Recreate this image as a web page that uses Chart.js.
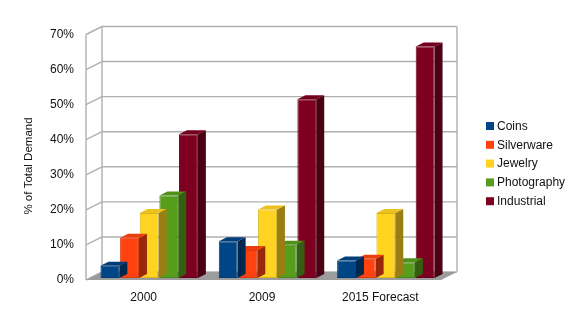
<!DOCTYPE html>
<html><head><meta charset="utf-8">
<script src="https://cdn.jsdelivr.net/npm/chart.js@4.4.0/dist/chart.umd.min.js"></script>
<style>html,body{margin:0;padding:0;background:#fff;overflow:hidden;}</style>
</head><body>
<canvas id="c" width="580" height="328"></canvas>
<script>
// ---- data ----
const categories = ['2000', '2009', '2015 Forecast'];
const seriesNames = ['Coins', 'Silverware', 'Jewelry', 'Photography', 'Industrial'];
const coins = [3.5, 10.5, 5];
const silverware = [11.5, 8, 5.5];
const jewelry = [18.5, 19.5, 18.5];
const photography = [23.5, 9.5, 4.5];
const industrial = [41, 51, 66];
const yTicks = [0, 10, 20, 30, 40, 50, 60, 70];
const yTitle = '% of Total Demand';

// ---- styling ----
const palette = ['#004586', '#ff420e', '#ffd320', '#579d1c', '#7e0021'];
const FONT = '"Liberation Sans", Arial, sans-serif';
const TEXT = '#111';
const GRID = '#b0b0b0';

function shade(hex, f) {
  const n = parseInt(hex.slice(1), 16);
  let r = (n >> 16) & 255, g = (n >> 8) & 255, b = n & 255;
  if (f <= 1) { r *= f; g *= f; b *= f; }
  else { const t = f - 1; r += (255 - r) * t; g += (255 - g) * t; b += (255 - b) * t; }
  return 'rgb(' + Math.round(r) + ',' + Math.round(g) + ',' + Math.round(b) + ')';
}

const seriesValues = [coins, silverware, jewelry, photography, industrial];
const datasets = seriesNames.map((name, i) => ({
  label: name,
  data: seriesValues[i],
  backgroundColor: palette[i],
  borderColor: shade(palette[i], 0.85),
  borderWidth: 1,
  borderSkipped: false
}));

// 3D geometry offsets (bar plane -> back wall / front edge, bar depth)
const DX = 12, DY = 6, FX = -4, FY = 2, BDX = 8, BDY = 4;

const box3d = {
  id: 'box3d',
  beforeDatasetsDraw(chart) {
    const ctx = chart.ctx, a = chart.chartArea, ys = chart.scales.y;
    const y0 = ys.getPixelForValue(0), yT = ys.getPixelForValue(70);
    ctx.save();
    ctx.fillStyle = '#fff';
    ctx.fillRect(a.left + DX, yT - DY, a.right - a.left, y0 - yT);
    ctx.strokeStyle = GRID; ctx.lineWidth = 1.4;
    yTicks.forEach(v => {
      const y = ys.getPixelForValue(v);
      ctx.beginPath();
      ctx.moveTo(a.left + DX, y - DY); ctx.lineTo(a.right + DX, y - DY); ctx.stroke();
      ctx.beginPath();
      ctx.moveTo(a.left + FX, y + FY); ctx.lineTo(a.left + DX, y - DY); ctx.stroke();
    });
    ctx.beginPath();
    ctx.moveTo(a.left + FX, yT + FY); ctx.lineTo(a.left + FX, y0 + FY);
    ctx.moveTo(a.left + DX, yT - DY); ctx.lineTo(a.left + DX, y0 - DY);
    ctx.moveTo(a.right + DX, yT - DY); ctx.lineTo(a.right + DX, y0 - DY);
    ctx.stroke();
    ctx.fillStyle = '#9c9c9c';
    ctx.beginPath();
    ctx.moveTo(a.left + FX, y0 + FY);
    ctx.lineTo(a.right + FX, y0 + FY);
    ctx.lineTo(a.right + DX, y0 - DY);
    ctx.lineTo(a.left + DX, y0 - DY);
    ctx.closePath(); ctx.fill();
    ctx.restore();
  },
  afterDatasetDraw(chart, args) {
    const ctx = chart.ctx, meta = args.meta;
    const col = palette[args.index];
    ctx.save();
    meta.data.forEach(el => {
      const p = el.getProps(['x', 'y', 'base', 'width'], true);
      const l = p.x - p.width / 2, r = p.x + p.width / 2, t = p.y, b = p.base;
      ctx.fillStyle = shade(col, 0.6);
      ctx.beginPath();
      ctx.moveTo(r, t); ctx.lineTo(r + BDX, t - BDY); ctx.lineTo(r + BDX, b - BDY); ctx.lineTo(r, b);
      ctx.closePath(); ctx.fill();
      ctx.fillStyle = shade(col, 0.92);
      ctx.beginPath();
      ctx.moveTo(l, t); ctx.lineTo(l + BDX, t - BDY); ctx.lineTo(r + BDX, t - BDY); ctx.lineTo(r, t);
      ctx.closePath(); ctx.fill();
    });
    ctx.restore();
  },
  afterDraw(chart) {
    const ctx = chart.ctx;
    ctx.save();
    ctx.font = '12px ' + FONT;
    ctx.textBaseline = 'middle';
    chart.data.datasets.forEach((ds, i) => {
      const y = 126 + i * 18.8;
      ctx.fillStyle = ds.backgroundColor;
      ctx.fillRect(486, y - 4, 8, 8);
      ctx.fillStyle = TEXT;
      ctx.textAlign = 'left';
      ctx.fillText(ds.label, 497, y + 0.5);
    });
    ctx.translate(29, 166);
    ctx.rotate(-Math.PI / 2);
    ctx.textAlign = 'center';
    ctx.fillStyle = TEXT;
    ctx.font = '11.5px ' + FONT;
    ctx.fillText(yTitle, 0, 0);
    ctx.restore();
  }
};

new Chart(document.getElementById('c'), {
  type: 'bar',
  data: { labels: categories, datasets },
  options: {
    responsive: false,
    animation: false,
    devicePixelRatio: 1,
    layout: { padding: { left: 0, right: 135, top: 32.5, bottom: 0 } },
    plugins: { legend: { display: false }, tooltip: { enabled: false } },
    datasets: { bar: { categoryPercentage: 0.83, barPercentage: 0.96 } },
    scales: {
      x: {
        grid: { display: false, drawTicks: false },
        border: { display: false },
        ticks: { padding: 12, labelOffset: -5.5, maxRotation: 0, color: TEXT, font: { family: FONT, size: 12 } },
        afterFit(s) { s.height = 50; }
      },
      y: {
        min: 0, max: 70,
        afterBuildTicks(s) { s.ticks = yTicks.map(v => ({ value: v })); },
        grid: { display: false, drawTicks: false },
        border: { display: false },
        ticks: { padding: 16, labelOffset: 2, color: TEXT, font: { family: FONT, size: 12 }, callback: v => v + '%' },
        afterFit(s) { s.width = 90; }
      }
    }
  },
  plugins: [box3d]
});
</script>
</body></html>
